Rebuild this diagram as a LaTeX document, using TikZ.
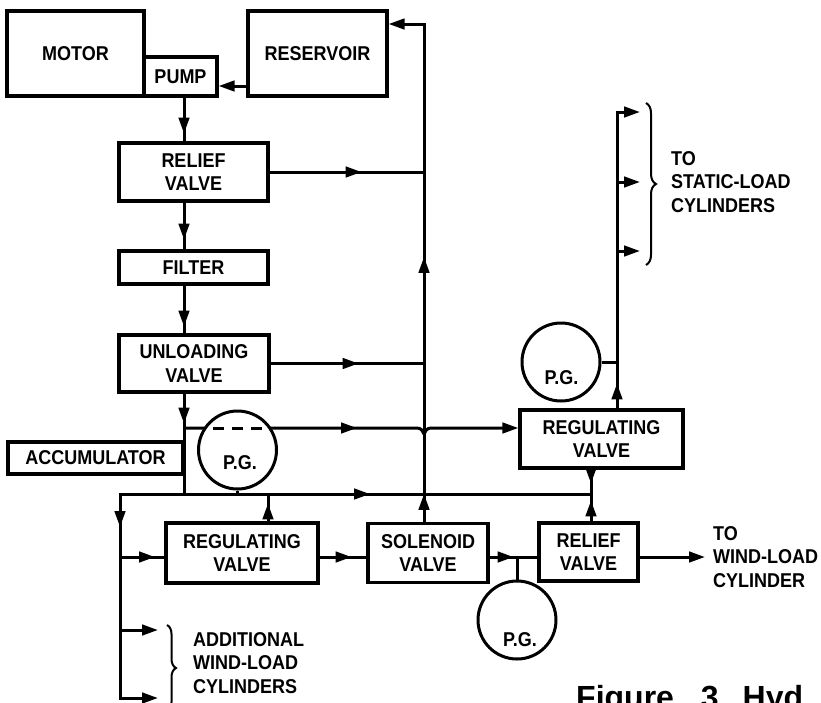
\documentclass[tikz,border=0pt]{standalone}
\usepackage{fontspec}
\newfontfamily\labfont[FakeStretch=0.9]{Liberation Sans}
\newfontfamily\capfont{Liberation Sans}
\usetikzlibrary{arrows.meta,decorations.markings,decorations.pathreplacing,backgrounds}
\tikzset{
  box/.style={draw, line width=3.2pt, fill=white, align=center, inner sep=0pt,
    font=\labfont\bfseries\fontsize{20}{23.5}\selectfont},
  pg/.style={draw, circle, line width=3pt, fill=white, minimum size=78pt, inner sep=0pt},
  pgtext/.style={inner sep=0pt, font=\labfont\bfseries\fontsize{20}{23.5}\selectfont},
  lbl/.style={align=left, inner sep=0pt, anchor=west, font=\labfont\bfseries\fontsize{20}{23.5}\selectfont},
  conn/.style={line width=3pt},
  endarr/.style={-{Triangle[length=16pt,width=10.5pt]}},
  marr/.style={postaction={decorate,decoration={markings,mark=at position #1 with {\arrow{Triangle[length=16pt,width=10.5pt]}}}}},
  brc/.style={decorate, decoration={brace, amplitude=#1}, line width=2pt},
}
\begin{document}
\begin{tikzpicture}[x=1pt,y=-1pt]
\useasboundingbox (0,0) rectangle (821,702);
% helper rows / columns
\coordinate (y24) at (0,24);
\coordinate (y86) at (0,86);
\coordinate (y112) at (0,112);
\coordinate (y182) at (0,182);
\coordinate (y251) at (0,251);
\coordinate (y428) at (0,428);
\coordinate (ym) at (0,494);
\coordinate (yr) at (0,557);
\coordinate (y630) at (0,630);
\coordinate (y698) at (0,698);
\coordinate (sp) at (184,0);
\coordinate (rx) at (424,0);
\coordinate (lx) at (120,0);
\coordinate (x268) at (268,0);
\coordinate (x591) at (591,0);
\coordinate (x617) at (617,0);
\coordinate (bumpL) at (417,428);
\coordinate (bumpM) at (424,434);
\coordinate (bumpR) at (431,428);
\coordinate (a1) at (158,630);
\coordinate (a2) at (158,698);
\coordinate (s1) at (640,112);
\coordinate (s2) at (640,182);
\coordinate (s3) at (640,251);
\coordinate (wout) at (705,557);

% boxes
\node[box, minimum width=137pt, minimum height=85pt] (motor) at (75.5,53.5) {MOTOR};
\node[box, minimum width=73pt, minimum height=39pt] (pump) at (180.5,76.5) {PUMP};
\node[box, minimum width=139pt, minimum height=85pt] (res) at (317.5,53.5) {RESERVOIR};
\node[box, minimum width=149pt, minimum height=58pt] (rv1) at (193.5,172) {RELIEF\\VALVE};
\node[box, minimum width=149pt, minimum height=33pt] (filter) at (193.5,267.5) {FILTER};
\node[box, minimum width=150pt, minimum height=57pt] (uv) at (194,363.5) {UNLOADING\\VALVE};
\node[box, minimum width=175pt, minimum height=32pt] (acc) at (95.5,458) {ACCUMULATOR};
\node[box, minimum width=163pt, minimum height=58pt] (rg2) at (601.5,439) {REGULATING\\VALVE};
\node[box, minimum width=152pt, minimum height=60pt] (rg1) at (242,553) {REGULATING\\VALVE};
\node[box, minimum width=120pt, minimum height=59pt] (sol) at (428,553) {SOLENOID\\VALVE};
\node[box, minimum width=99pt, minimum height=58pt] (rv2) at (588.5,552) {RELIEF\\VALVE};

% pressure gauges
\node[pg] (pg1) at (237.5,450) {};
\node[pgtext] (pg1t) at (240,463) {P.G.};
\node[pg] (pg2) at (561,362) {};
\node[pgtext] (pg2t) at (561.5,378) {P.G.};
\node[pg] (pg3) at (517,620) {};
\node[pgtext] (pg3t) at (520,640) {P.G.};
\draw[conn, dash pattern=on 11pt off 8pt] (213,428) -- (263,428);

% labels
\node[lbl] (stat) at (671,182) {TO\\STATIC-LOAD\\CYLINDERS};
\node[lbl] (wind) at (713,557) {TO\\WIND-LOAD\\CYLINDER};
\node[lbl] (addl) at (193,663) {ADDITIONAL\\WIND-LOAD\\CYLINDERS};
\draw[brc=10pt] (646,103) -- (646,265);
\draw[brc=9pt] (167,625) -- (167,711);

\node[anchor=base west, inner sep=0pt, font=\capfont\bfseries\fontsize{32}{36}\selectfont] (cap) at (576,708) {Figure\hspace{27pt}3.\hspace{15pt}Hyd};

\begin{pgfonlayer}{background}
\fill[white] (0,0) rectangle (821,702);
% supply line
\draw[conn, endarr] (res.west |- y86) -- (pump.east |- y86);
\draw[conn, marr=36pt] (sp |- pump.south) -- (sp |- rv1.north);
\draw[conn, marr=37pt] (sp |- rv1.south) -- (sp |- filter.north);
\draw[conn, marr=41pt] (sp |- filter.south) -- (sp |- uv.north);
\draw[conn, marr=30pt] (sp |- uv.south) -- (sp |- ym);
% return lines
\draw[conn, marr=92pt] (rv1.east) -- (rv1.east -| rx);
\draw[conn, marr=88pt] (uv.east) -- (uv.east -| rx);
\draw[conn, endarr, marr=28pt, marr=265pt] (sol.north -| rx) -- (rx |- y24) -- (res.east |- y24);
% accumulator line to upper regulating valve
\draw[conn, endarr, marr=173pt] (sp |- y428) -- (bumpL)
  .. controls (421,428) and (423,431) .. (bumpM)
  .. controls (425,431) and (427,428) .. (bumpR) -- (rg2.west |- y428);
% main header
\draw[conn, marr=186pt] (sp |- ym) -- (x591 |- ym);
\draw[conn, endarr, marr=97pt] (sp |- ym) -| (lx |- y698) -- (a2);
\draw[conn] (pg1.south) -- (pg1.south |- ym);
\draw[conn, marr=35pt] (lx |- yr) -- (rg1.west |- yr);
\draw[conn, endarr] (lx |- y630) -- (a1);
\draw[conn, marr=18pt] (rg1.north -| x268) -- (x268 |- ym);
% wind-load line
\draw[conn, marr=32pt] (rg1.east |- yr) -- (sol.west |- yr);
\draw[conn, marr=24pt] (sol.east |- yr) -- (rv2.west |- yr);
\draw[conn] (pg3.north) -- (pg3.north |- yr);
\draw[conn, marr=21pt] (rv2.north -| x591) -- (x591 |- ym);
\draw[conn, marr=14pt] (rg2.south -| x591) -- (x591 |- ym);
\draw[conn, endarr] (rv2.east |- yr) -- (wout);
% static-load line
\draw[conn, endarr, marr=25pt] (rg2.north -| x617) -- (x617 |- y112) -- (s1);
\draw[conn] (pg2.east) -- (pg2.east -| x617);
\draw[conn, endarr] (x617 |- y182) -- (s2);
\draw[conn, endarr] (x617 |- y251) -- (s3);
\end{pgfonlayer}
\end{tikzpicture}
\end{document}
